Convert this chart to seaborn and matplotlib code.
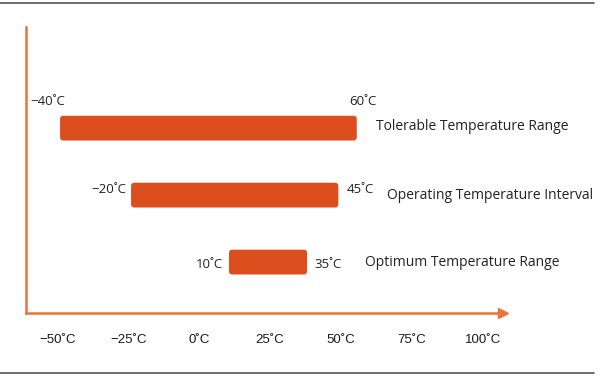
import pandas as pd
import matplotlib.pyplot as plt
import seaborn as sns
from matplotlib.lines import Line2D
from matplotlib.patches import FancyBboxPatch

# ranges as labelled in the picture
range_names = ["Tolerable Temperature Range", "Operating Temperature Interval", "Optimum Temperature Range"]
low_labels = ["−40˚C", "−20˚C", "10˚C"]
high_labels = ["60˚C", "45˚C", "35˚C"]
# bar extents as they are drawn against the axis
bar_start = [-49, -24, 10.5]
bar_end = [55.5, 49, 38]
tick_values = [-50, -25, 0, 25, 50, 75, 100]

BAR = "#DC4E1E"
AXIS = "#E5753F"

df = pd.DataFrame({"name": range_names, "start": bar_start, "end": bar_end})
df["span"] = df["end"] - df["start"]

sns.set_theme(style="white")
plt.rcParams["font.family"] = ["Open Sans", "DejaVu Sans"]

fig = plt.figure(figsize=(6, 3.79), dpi=100)
ax = fig.add_axes([26 / 600, 1 - 313 / 379, (503 - 26) / 600, (313 - 27) / 379])

sns.barplot(data=df, x="span", y="name", left=df["start"], color=BAR,
            width=0.37, orient="h", saturation=1, ax=ax)

# swap the plain rectangles for slightly rounded ones
for p in list(ax.patches):
    x, y, w, h = p.get_x(), p.get_y(), p.get_width(), p.get_height()
    rb = FancyBboxPatch((x, y), w, h, boxstyle="round,pad=0,rounding_size=1.1",
                        mutation_aspect=0.042, facecolor=BAR, edgecolor="none")
    p.remove()
    ax.add_patch(rb)

ax.set_xlim(-61, 107)
ax.set_ylim(2.76, -1.51)
ax.set_xlabel("")
ax.set_ylabel("")
ax.set_yticks([])
ax.set_xticks(tick_values)
ax.set_xticklabels([f"{v}˚C".replace("-", "−") for v in tick_values],
                   fontsize=9.5, color="#1a1a1a", family=["Liberation Sans", "DejaVu Sans"])
ax.tick_params(axis="x", length=0, pad=15)

for s in ["top", "right"]:
    ax.spines[s].set_visible(False)
for s in ["left", "bottom"]:
    ax.spines[s].set_color(AXIS)
    ax.spines[s].set_linewidth(1.8)
ax.plot(1.0, 0, marker=">", markersize=7, color=AXIS, transform=ax.transAxes, clip_on=False)

lab = dict(fontsize=9.5, color="#222222", va="center")
ax.text(-59.5, -0.40, low_labels[0], ha="left", **lab)
ax.text(52.8, -0.40, high_labels[0], ha="left", **lab)
ax.text(62.3, -0.02, range_names[0], ha="left", fontsize=10, color="#222222", va="center")
ax.text(-25.7, 0.91, low_labels[1], ha="right", **lab)
ax.text(52.1, 0.91, high_labels[1], ha="left", **lab)
ax.text(66.2, 1.0, range_names[1], ha="left", fontsize=10, color="#222222", va="center")
ax.text(8.5, 2.04, low_labels[2], ha="right", **lab)
ax.text(40.5, 2.03, high_labels[2], ha="left", **lab)
ax.text(58.5, 2.01, range_names[2], ha="left", fontsize=10, color="#222222", va="center")

# frame lines top and bottom
fig.add_artist(Line2D([0, 594 / 600], [1 - 3 / 379] * 2, color="#555555", lw=1.2))
fig.add_artist(Line2D([0, 594 / 600], [1 - 373 / 379] * 2, color="#555555", lw=1.2))

fig.savefig("out.png", dpi=100)
plt.close(fig)
